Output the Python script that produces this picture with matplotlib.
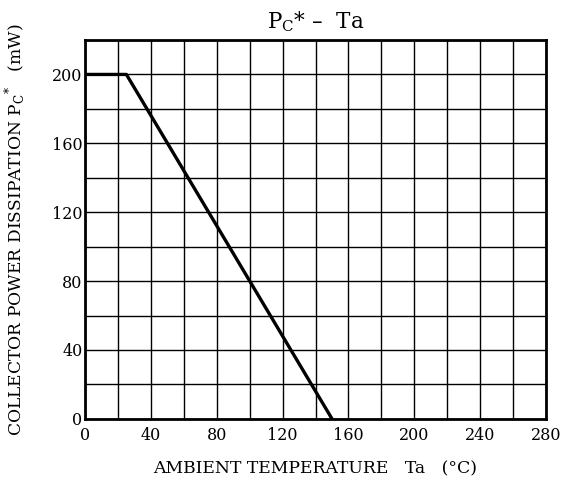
import numpy as np
import matplotlib.pyplot as plt

# --- data ---
temp_ta = [0, 25, 150]          # ambient temperature (°C)
power_pc = [200, 200, 0]        # collector power dissipation (mW)

x_ticks = [0, 40, 80, 120, 160, 200, 240, 280]
y_ticks = [0, 40, 80, 120, 160, 200]

plt.rcParams['font.family'] = ['DejaVu Serif']

fig = plt.figure(figsize=(5.61, 4.82), dpi=100)
ax = fig.add_axes([0.152, 0.131, 0.821, 0.786])

ax.plot(temp_ta, power_pc, color='black', linewidth=2.4, solid_capstyle='butt', zorder=3)

ax.set_xlim(0, 280)
ax.set_ylim(0, 220)
ax.set_xticks(x_ticks)
ax.set_xticks(np.arange(20, 280, 40), minor=True)
ax.set_yticks(y_ticks)
ax.set_yticks(np.arange(20, 221, 40), minor=True)
ax.grid(True, which='both', color='black', linewidth=1.0)
ax.tick_params(which='both', length=0, labelsize=11.5)
ax.tick_params(axis='x', pad=6)
ax.tick_params(axis='y', pad=2)

for s in ax.spines.values():
    s.set_linewidth(2)

ax.set_title('P$_\\mathregular{C}$* \u2013  Ta', fontsize=15.5, pad=8)
ax.set_xlabel('AMBIENT TEMPERATURE   Ta   (\u00b0C)', fontsize=12.4, labelpad=12)
ax.set_ylabel('COLLECTOR POWER DISSIPATION P$_\\mathregular{C}$$^\\mathregular{*}$   (mW)',
              fontsize=12.3, labelpad=18)

fig.savefig('out.png', dpi=100)
